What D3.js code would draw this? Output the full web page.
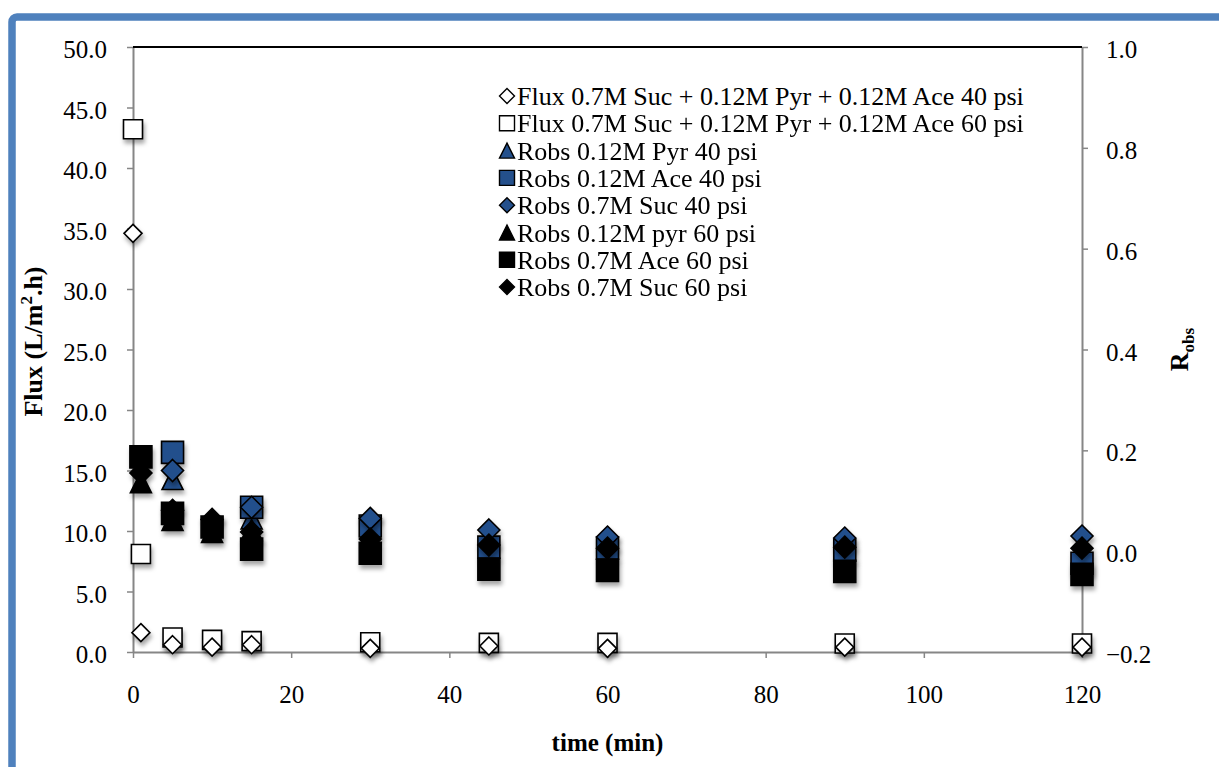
<!DOCTYPE html>
<html>
<head>
<meta charset="utf-8">
<script src="https://cdn.jsdelivr.net/npm/d3@7/dist/d3.min.js"></script>
<style>
  html, body { margin: 0; padding: 0; background: #fff; }
  svg { display: block; }
  svg text { font-family: "Liberation Serif", "DejaVu Serif", serif; fill: #000; }
</style>
</head>
<body>
<svg id="chart" width="1219" height="767"></svg>
<script>
// ---- data ----
const fluxTimes = [0, 1, 5, 10, 15, 30, 45, 60, 90, 120];
const flux40 = [34.6, 1.6, 0.6, 0.4, 0.6, 0.3, 0.5, 0.3, 0.4, 0.4];
const flux60 = [43.2, 8.1, 1.2, 1.0, 0.9, 0.8, 0.75, 0.75, 0.7, 0.7];

const robsTimes = [1, 5, 10, 15, 30, 45, 60, 90, 120];
const pyr40 = [null, 0.143, null, 0.065, null, null, null, null, null];
const ace40 = [null, 0.196, null, 0.087, 0.050, 0.008, 0.006, 0.002, -0.024];
const suc40 = [null, 0.160, null, 0.087, 0.065, 0.042, 0.028, 0.026, 0.030];
const pyr60 = [0.137, 0.062, 0.038, 0.042, null, null, null, null, null];
const ace60 = [0.187, 0.075, 0.048, 0.004, -0.004, -0.036, -0.038, -0.040, -0.046];
const suc60 = [0.155, 0.081, 0.063, 0.038, 0.024, 0.012, 0.006, 0.008, 0.006];

const xTicks = [0, 20, 40, 60, 80, 100, 120];
const fluxTicks = [0, 5, 10, 15, 20, 25, 30, 35, 40, 45, 50];
const robsTicks = [-0.2, 0, 0.2, 0.4, 0.6, 0.8, 1.0];

const legendLabels = [
  "Flux 0.7M Suc + 0.12M Pyr + 0.12M Ace 40 psi",
  "Flux 0.7M Suc + 0.12M Pyr + 0.12M Ace 60 psi",
  "Robs 0.12M Pyr 40 psi",
  "Robs 0.12M Ace 40 psi",
  "Robs 0.7M Suc 40 psi",
  "Robs 0.12M pyr 60 psi",
  "Robs 0.7M Ace 60 psi",
  "Robs 0.7M Suc 60 psi"
];

// ---- layout ----
const SERIF = "Liberation Serif, DejaVu Serif, serif";
const BLUE = "#24508c";
const AXIS = "#868686";
const plot = { left: 133, right: 1082, top: 47, bottom: 652 };

const svg = d3.select("#chart");

const x = d3.scaleLinear().domain([0, 120]).range([plot.left, plot.right]);
const yFlux = d3.scaleLinear().domain([0, 50]).range([plot.bottom, plot.top]);
const yR = d3.scaleLinear().domain([-0.2, 1.0]).range([plot.bottom, plot.top]);

// drop shadow under the markers
const defs = svg.append("defs");
const f = defs.append("filter").attr("id", "shadow")
  .attr("x", "-50%").attr("y", "-50%").attr("width", "200%").attr("height", "200%");
f.append("feDropShadow").attr("dx", 1.5).attr("dy", 4).attr("stdDeviation", 2.2)
  .attr("flood-color", "#000").attr("flood-opacity", 0.35);

// outer frame
svg.append("rect")
  .attr("x", 12).attr("y", 17).attr("width", 1400).attr("height", 900)
  .attr("rx", 5)
  .attr("fill", "none").attr("stroke", "#4f81bd").attr("stroke-width", 7.5);

// marker shapes, centred on their bounding box
function shapePath(kind, s) {
  const h = s / 2;
  if (kind === "square") return `M${-h},${-h}H${h}V${h}H${-h}Z`;
  if (kind === "diamond") return `M0,${-h}L${h},0L0,${h}L${-h},0Z`;
  return `M0,${-h}L${h},${h}H${-h}Z`; // triangle
}

// ---- axes ----
const gAxes = svg.append("g");

const leftAxis = d3.axisLeft(yFlux).tickValues(fluxTicks).tickFormat(d3.format(".1f"))
  .tickSizeInner(6).tickSizeOuter(0).tickPadding(20);
const gl = gAxes.append("g").attr("transform", `translate(${plot.left},0)`).call(leftAxis);

const rightAxis = d3.axisRight(yR).tickValues(robsTicks).tickFormat(d3.format(".1f"))
  .tickSizeInner(6).tickSizeOuter(0).tickPadding(18);
const gr = gAxes.append("g").attr("transform", `translate(${plot.right},0)`).call(rightAxis);

const bottomAxis = d3.axisBottom(x).tickValues(xTicks).tickFormat(d3.format("d"))
  .tickSizeInner(6).tickSizeOuter(0).tickPadding(27);
const gb = gAxes.append("g").attr("transform", `translate(0,${plot.bottom})`).call(bottomAxis);

[gl, gr, gb].forEach(g => {
  g.attr("font-family", SERIF).attr("font-size", 25);
  g.select(".domain").attr("stroke", AXIS).attr("stroke-width", 2);
  g.selectAll(".tick line").attr("stroke", AXIS).attr("stroke-width", 1.5);
  g.selectAll(".tick text").attr("font-family", SERIF).attr("font-size", 25).attr("fill", "#000");
});
gl.selectAll(".tick text").attr("dy", "0.42em");
gr.selectAll(".tick text").attr("dy", "0.42em");

// top border of plot area
gAxes.append("line")
  .attr("x1", plot.left).attr("x2", plot.right)
  .attr("y1", plot.top).attr("y2", plot.top)
  .attr("stroke", "#000").attr("stroke-width", 2);

// axis titles
svg.append("text")
  .attr("transform", `translate(42,${(plot.top + plot.bottom) / 2 - 8}) rotate(-90)`)
  .attr("text-anchor", "middle")
  .attr("font-family", SERIF).attr("font-size", 26).attr("font-weight", "bold")
  .html('Flux (L/m<tspan dy="-10" font-size="17">2</tspan><tspan dy="10">.h)</tspan>');

const rt = svg.append("text")
  .attr("transform", `translate(1188,${(plot.top + plot.bottom) / 2}) rotate(-90)`)
  .attr("text-anchor", "middle")
  .attr("font-family", SERIF).attr("font-size", 26).attr("font-weight", "bold");
rt.append("tspan").text("R");
rt.append("tspan").attr("dy", 6).attr("font-size", 17).text("obs");

svg.append("text")
  .attr("x", (plot.left + plot.right) / 2).attr("y", 751)
  .attr("text-anchor", "middle")
  .attr("font-family", SERIF).attr("font-size", 25).attr("font-weight", "bold")
  .text("time (min)");

// ---- series ----
const series = [
  { times: fluxTimes, vals: flux40, y: yFlux, shape: "diamond", size: 18, fill: "#fff" },
  { times: fluxTimes, vals: flux60, y: yFlux, shape: "square", size: 19, fill: "#fff" },
  { times: robsTimes, vals: pyr40, y: yR, shape: "triangle", size: 21, fill: BLUE },
  { times: robsTimes, vals: ace40, y: yR, shape: "square", size: 22, fill: BLUE },
  { times: robsTimes, vals: suc40, y: yR, shape: "diamond", size: 22, fill: BLUE },
  { times: robsTimes, vals: pyr60, y: yR, shape: "triangle", size: 21, fill: "#000" },
  { times: robsTimes, vals: ace60, y: yR, shape: "square", size: 22, fill: "#000" },
  { times: robsTimes, vals: suc60, y: yR, shape: "diamond", size: 22, fill: "#000" }
];

// the open flux diamonds sit on top of the open flux squares
const drawOrder = [1, 0, 2, 3, 4, 5, 6, 7];

const gMarks = svg.append("g");
drawOrder.forEach(k => {
  const s = series[k];
  const pts = s.times.map((t, i) => ({ t, v: s.vals[i] })).filter(d => d.v !== null);
  gMarks.append("g").attr("filter", "url(#shadow)")
    .selectAll("path").data(pts).join("path")
    .attr("transform", d => `translate(${x(d.t)},${s.y(d.v)})`)
    .attr("d", shapePath(s.shape, s.size))
    .attr("fill", s.fill)
    .attr("stroke", "#000").attr("stroke-width", 1.6)
    .attr("stroke-linejoin", "miter");
});

// ---- legend ----
const legend = svg.append("g");
const legX = 507, legY0 = 96, legStep = 27.3;
series.forEach((s, i) => {
  const cy = legY0 + i * legStep;
  legend.append("path")
    .attr("transform", `translate(${legX},${cy})`)
    .attr("d", shapePath(s.shape, 15))
    .attr("fill", s.fill).attr("stroke", "#000").attr("stroke-width", 1.4);
  legend.append("text")
    .attr("x", legX + 10).attr("y", cy).attr("dy", "0.35em")
    .attr("font-family", SERIF).attr("font-size", 26)
    .text(legendLabels[i]);
});
</script>
</body>
</html>
